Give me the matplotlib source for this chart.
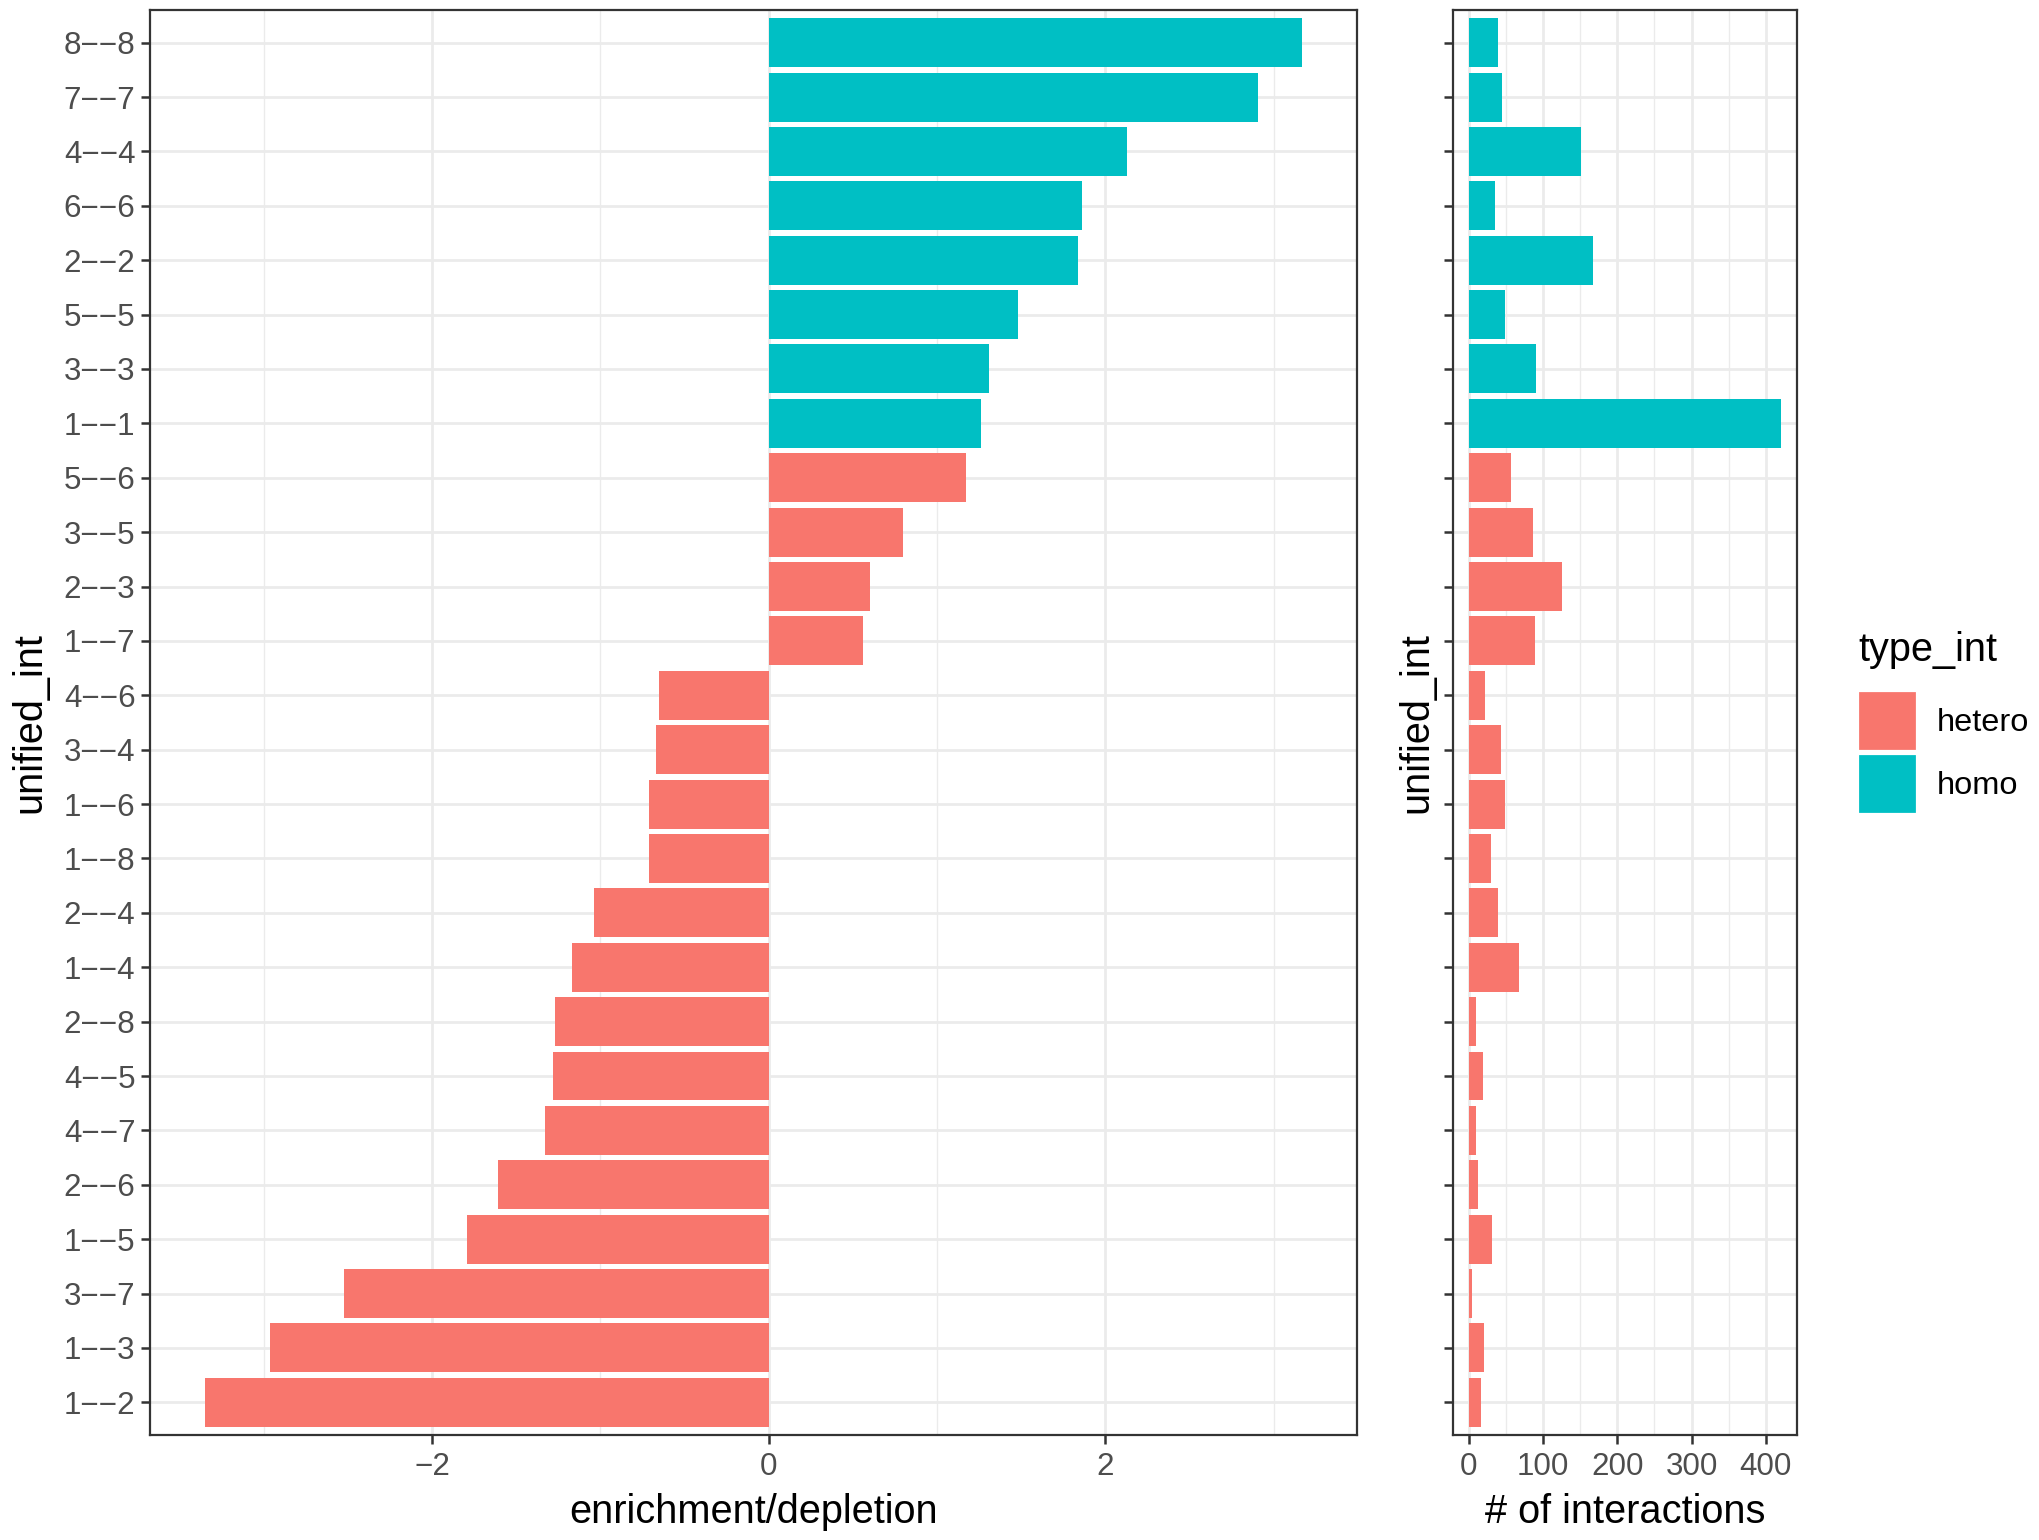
"""Enrichment/depletion and interaction counts per pair"""
import matplotlib
matplotlib.use('Agg')
import matplotlib.pyplot as plt
from matplotlib.patches import Patch
from matplotlib.ticker import MultipleLocator

plt.rcParams['font.family'] = ['Liberation Sans', 'DejaVu Sans']

# categories, listed top to bottom as in the chart
pairs = ['8−−8', '7−−7', '4−−4', '6−−6', '2−−2', '5−−5', '3−−3', '1−−1',
         '5−−6', '3−−5', '2−−3', '1−−7', '4−−6', '3−−4', '1−−6', '1−−8',
         '2−−4', '1−−4', '2−−8', '4−−5', '4−−7', '2−−6', '1−−5', '3−−7',
         '1−−3', '1−−2']
type_int = ['homo'] * 8 + ['hetero'] * 18
enrichment = [3.17, 2.91, 2.13, 1.86, 1.84, 1.48, 1.31, 1.26,
              1.17, 0.80, 0.60, 0.56, -0.65, -0.67, -0.71, -0.71,
              -1.04, -1.17, -1.27, -1.28, -1.33, -1.61, -1.79, -2.52,
              -2.96, -3.35]
n_interactions = [40, 45, 151, 36, 168, 49, 91, 421,
                  57, 87, 126, 89, 22, 44, 49, 30,
                  39, 68, 10, 19, 10, 13, 31, 4,
                  20, 17]

palette = {'hetero': '#F8766D', 'homo': '#00BFC4'}
colors = [palette[t] for t in type_int]
ypos = list(range(len(pairs)))

grid_col = '#EBEBEB'
tick_col = '#4D4D4D'
frame_col = '#333333'
tick_size = 11.3
title_size = 14.3

fig = plt.figure(figsize=(10.2, 7.7), dpi=200)
ax1 = fig.add_axes([0.0735, 0.0682, 0.5917, 0.9253])
ax2 = fig.add_axes([0.7123, 0.0682, 0.1686, 0.9253])


def style(ax):
    ax.set_axisbelow(True)
    ax.grid(which='major', color=grid_col, linewidth=1.0)
    ax.grid(which='minor', axis='x', color=grid_col, linewidth=0.5)
    for s in ax.spines.values():
        s.set_color(frame_col)
        s.set_linewidth(0.8)
    ax.tick_params(which='major', length=3.2, width=0.9, color=frame_col,
                   labelcolor=tick_col, labelsize=tick_size, pad=2.0)
    ax.tick_params(axis='x', which='major', pad=3.0)
    ax.tick_params(which='minor', length=0)
    ax.set_ylim(len(pairs) - 0.4, -0.6)


ax1.barh(ypos, enrichment, height=0.9, color=colors)
ax1.set_xlim(-3.676, 3.496)
ax1.xaxis.set_major_locator(MultipleLocator(2))
ax1.xaxis.set_minor_locator(MultipleLocator(1))
ax1.set_yticks(ypos)
ax1.set_yticklabels(pairs)
style(ax1)
ax1.set_xlabel('enrichment/depletion', fontsize=title_size, labelpad=4)
ax1.set_ylabel('unified_int', fontsize=title_size)
ax1.yaxis.set_label_coords(-0.0845, 0.5)

ax2.barh(ypos, n_interactions, height=0.9, color=colors)
ax2.set_xlim(-21, 442)
ax2.xaxis.set_major_locator(MultipleLocator(100))
ax2.xaxis.set_minor_locator(MultipleLocator(50))
ax2.set_yticks(ypos)
ax2.set_yticklabels([])
style(ax2)
ax2.set_xlabel('# of interactions', fontsize=title_size, labelpad=4)
ax2.set_ylabel('unified_int', fontsize=title_size)
ax2.yaxis.set_label_coords(-0.0523, 0.5)

# legend: title drawn as its own text, keys below it
fig.text(0.9108, 0.5776, 'type_int', fontsize=title_size, va='center',
         ha='left')
handles = [Patch(facecolor=palette[k], edgecolor='white', linewidth=0.8,
                 label=k) for k in ['hetero', 'homo']]
fig.legend(handles=handles, loc='upper left',
           bbox_to_anchor=(0.8966, 0.5701), frameon=False,
           fontsize=11.7, handlelength=1.8, handleheight=2.45,
           labelspacing=0.1, handletextpad=0.6)

fig.savefig('out.png', dpi=200)
